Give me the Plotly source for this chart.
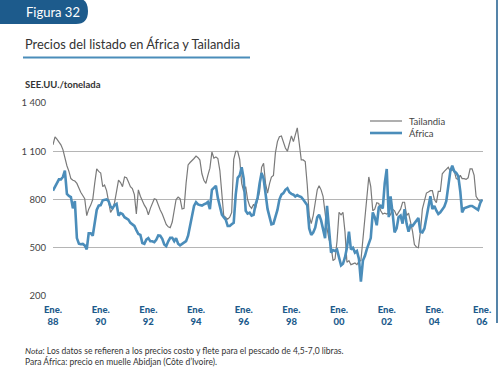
import plotly.graph_objects as go
import pandas as pd

# ---- data (monthly, Jan 1988 - Jan 2006), USD/tonne ----
start_month = "1988-01-01"
tailandia = [
    1140, 1190, 1175, 1160, 1140, 1110, 1057, 1010, 975, 930, 920, 915,   # 1988
    900, 870, 845, 825, 805, 700, 740, 765, 800, 900, 990, 975,          # 1989
    965, 880, 890, 855, 790, 720, 740, 780, 850, 920, 905, 880,          # 1990
    940, 935, 910, 880, 868, 830, 710, 860, 820, 790, 765, 745,          # 1991
    705, 745, 770, 804, 800, 760, 735, 710, 680, 645, 630, 625,          # 1992
    660, 740, 800, 815, 805, 741, 745, 900, 1015, 1030, 1040, 1055,      # 1993
    1070, 1060, 1045, 960, 920, 900, 950, 995, 1095, 1057, 1065, 1055,   # 1994
    980, 800, 700, 688, 678, 690, 720, 1050, 1100, 1100, 1050, 900,      # 1995
    850, 880, 800, 760, 745, 770, 745, 800, 850, 1000, 1025, 900,        # 1996
    840, 900, 940, 950, 1090, 1160, 1190, 1195, 1150, 1120, 1100, 1150,  # 1997
    1195, 1160, 1200, 1245, 1150, 1046, 1046, 1036, 890, 700, 650, 700,  # 1998
    780, 860, 885, 860, 820, 700, 620, 550, 510, 420, 430, 540,          # 1999
    720, 705, 720, 600, 410, 420, 395, 400, 405, 395, 415, 420,          # 2000
    560, 700, 840, 940, 880, 730, 740, 780, 775, 730, 710, 715,          # 2001
    710, 718, 705, 740, 730, 700, 720, 740, 783, 783, 700, 715,          # 2002
    660, 600, 520, 505, 500, 600, 740, 800, 840, 846, 855, 855,          # 2003
    800, 780, 850, 850, 960, 975, 990, 1000, 975, 985, 975, 930,         # 2004
    925, 950, 930, 930, 925, 935, 990, 990, 950, 820, 800, 790,          # 2005
    790,                                                                  # 2006
]
africa = [
    855, 880, 905, 925, 925, 940, 980, 835, 822, 815, 745, 790,          # 1988
    560, 525, 522, 524, 515, 490, 590, 590, 575, 650, 735, 762,          # 1989
    765, 795, 798, 800, 790, 755, 745, 765, 773, 700, 715, 710,          # 1990
    690, 680, 675, 655, 645, 636, 610, 585, 580, 530, 525, 550,          # 1991
    560, 540, 540, 535, 550, 577, 575, 555, 520, 510, 540, 562,          # 1992
    562, 541, 560, 525, 515, 525, 531, 541, 575, 630, 700, 760,          # 1993
    783, 770, 765, 762, 770, 775, 785, 740, 860, 875, 885, 810,          # 1994
    760, 705, 690, 675, 635, 635, 646, 655, 830, 935, 950, 1000,         # 1995
    930, 730, 712, 718, 700, 705, 770, 810, 900, 965, 930, 820,          # 1996
    740, 690, 646, 650, 690, 735, 800, 830, 840, 860, 870, 845,          # 1997
    835, 830, 818, 828, 820, 815, 800, 785, 765, 620, 580, 595,          # 1998
    625, 690, 705, 670, 620, 560, 760, 620, 470, 485, 480, 488,          # 1999
    430, 390, 400, 440, 500, 600, 490, 500, 470, 480, 430, 290,          # 2000
    420, 450, 490, 520, 560, 720, 690, 640, 750, 760, 745, 900,          # 2001
    990, 690, 820, 715, 595, 620, 690, 700, 650, 740, 650, 600,          # 2002
    640, 636, 650, 665, 685, 600, 596, 620, 690, 740, 820, 740,          # 2003
    760, 730, 710, 720, 735, 755, 790, 900, 975, 1010, 975, 965,         # 2004
    945, 850, 720, 745, 750, 755, 760, 760, 752, 745, 735, 775,          # 2005
    800,                                                                  # 2006
]
series_names = ["Tailandia", "África"]
x_tick_years = [1988, 1990, 1992, 1994, 1996, 1998, 2000, 2002, 2004, 2006]
x_tick_text = ["Ene.<br>88", "Ene.<br>90", "Ene.<br>92", "Ene.<br>94", "Ene.<br>96",
               "Ene.<br>98", "Ene.<br>00", "Ene.<br>02", "Ene.<br>04", "Ene.<br>06"]
y_tick_vals = [200, 500, 800, 1100, 1400]
y_tick_text = ["200", "500", "800", "1 100", "1 400"]

dates = pd.date_range(start_month, periods=len(tailandia), freq="MS")

# ---- layout geometry (pixels) ----
W, H = 500, 367
L, R, T, B = 53, 483, 103, 296
FONT = "Lato"
DARK_BLUE = "#1d5b8c"
LINE_BLUE = "#4b8dba"
GREY_LINE = "#7a7a7a"
styles = [dict(color=GREY_LINE, width=1.2), dict(color=LINE_BLUE, width=2.6)]


def px(x):
    return (x - L) / (R - L)


def py(y):
    return (B - y) / (B - T)


fig = go.Figure()
for name, vals, st in zip(series_names, [tailandia, africa], styles):
    fig.add_trace(go.Scatter(x=dates, y=vals, name=name, mode="lines",
                             line=st, showlegend=False))

fig.update_layout(
    width=W, height=H,
    margin=dict(l=L, r=W - R, t=T, b=H - B, pad=0, autoexpand=False),
    paper_bgcolor="white", plot_bgcolor="white",
    font=dict(family=FONT, color="#444444"),
    showlegend=False,
    xaxis=dict(
        type="date",
        range=["1988-01-01", "2006-01-15"],
        tickvals=[f"{y}-01-01" for y in x_tick_years],
        ticktext=x_tick_text,
        showgrid=False, zeroline=False, showline=False, ticks="",
        tickfont=dict(size=9.5, color=DARK_BLUE, family=FONT + " Black, " + FONT),
        ticklabelstandoff=6,
        automargin=False,
    ),
    yaxis=dict(
        range=[200, 1400],
        tickvals=y_tick_vals, ticktext=y_tick_text,
        showgrid=True, gridcolor="#b5b5b5", gridwidth=1.2,
        zeroline=False, showline=False, ticks="",
        tickfont=dict(size=9.5, color="#444444"),
        ticklabelstandoff=6,
        automargin=False,
    ),
)

shapes = []
# header tab
tab_path = (f"M {px(0)},{py(-2)} L {px(76)},{py(-2)} "
            f"Q {px(88)},{py(-2)} {px(88)},{py(11)} "
            f"Q {px(88)},{py(24)} {px(76)},{py(24)} "
            f"L {px(0)},{py(24)} Z")
shapes.append(dict(type="path", xref="paper", yref="paper", path=tab_path,
                   fillcolor=DARK_BLUE, line=dict(width=0), layer="above"))
# title underline
shapes.append(dict(type="line", xref="paper", yref="paper",
                   x0=px(23), x1=px(250), y0=py(57.5), y1=py(57.5),
                   line=dict(color=LINE_BLUE, width=2)))
# right border
shapes.append(dict(type="line", xref="paper", yref="paper",
                   x0=px(497), x1=px(497), y0=py(0), y1=py(323),
                   line=dict(color=DARK_BLUE, width=1.5)))
# legend samples
for i, st in enumerate(styles):
    yy = 121 + 12 * i
    shapes.append(dict(type="line", xref="paper", yref="paper",
                       x0=px(370), x1=px(402), y0=py(yy), y1=py(yy), line=st))
fig.update_layout(shapes=shapes)

ann = []
for i, name in enumerate(series_names):
    ann.append(dict(text=name, x=px(407), y=py(121 + 12 * i), xref="paper", yref="paper",
                    xanchor="left", yanchor="middle", showarrow=False,
                    font=dict(size=9.5, color="#444444", family=FONT)))
ann.append(dict(text="Figura 32", x=px(24), y=py(12), xref="paper", yref="paper",
                xanchor="left", yanchor="middle", showarrow=False,
                font=dict(size=13, color="white", family=FONT)))
ann.append(dict(text="Precios del listado en África y Tailandia", x=px(23), y=py(44),
                xref="paper", yref="paper", xanchor="left", yanchor="middle",
                showarrow=False, font=dict(size=12.8, color="#333333", family=FONT)))
ann.append(dict(text="<b>SEE.UU./tonelada</b>", x=px(23), y=py(85),
                xref="paper", yref="paper", xanchor="left", yanchor="middle",
                showarrow=False, font=dict(size=9.5, color="#333333", family=FONT)))
ann.append(dict(text="<i>Nota</i>: Los datos se refieren a los precios costo y flete para el pescado de 4,5-7,0 libras.",
                x=px(23), y=py(350.5), xref="paper", yref="paper", xanchor="left",
                yanchor="middle", showarrow=False,
                font=dict(size=8.5, color="#333333", family=FONT)))
ann.append(dict(text="Para África: precio en muelle Abidjan (Côte d’Ivoire).",
                x=px(23), y=py(361.5), xref="paper", yref="paper", xanchor="left",
                yanchor="middle", showarrow=False,
                font=dict(size=8.5, color="#333333", family=FONT)))
fig.update_layout(annotations=ann)

fig.write_html("out.html",
               config={"displayModeBar": False},
               post_script="document.body.style.margin='0';document.body.style.padding='0';")
